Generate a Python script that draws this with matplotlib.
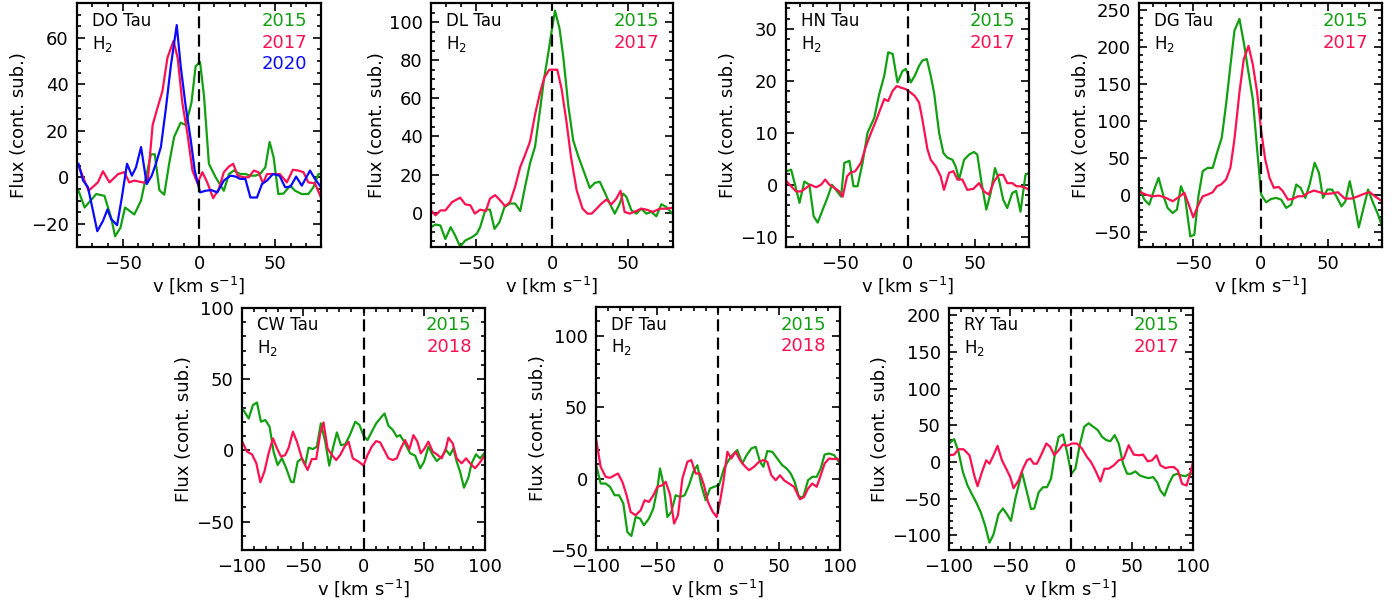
import numpy as np
import matplotlib
matplotlib.use('Agg')
import matplotlib.pyplot as plt
from matplotlib.ticker import MultipleLocator

plt.rcParams['font.family'] = ['DejaVu Sans']
plt.rcParams['mathtext.fontset'] = 'dejavusans'

GREEN = '#12a012'
RED = '#ff1050'
BLUE = '#0a0aff'

# ---- DO Tau
do_v15 = [-79, -75, -67.4, -62, -57.6, -55, -51.5, -48.5, -42.4, -38, -34.8, -31.5, -29, -26, -22.8, -19.6, -16.3, -12, -8.7, -5, -2.2, 0.7, 3.3, 6.5, 10.9, 16.3, 19.6, 22.8, 27, 30.4, 33.7, 37, 40, 43.5, 46.3, 48.9, 52, 55.4, 59.8, 63, 67.4, 71.7, 75, 78.3, 80]
do_f15 = [-5.8, -13, -7.2, -8, -17.4, -25.4, -21.7, -13, -16, -10, 0, 9.9, 9.9, -5.5, -7.5, 5.8, 17.4, 23.5, 22.5, 31.9, 47.8, 49.6, 34.8, 5.8, 0, -5.8, 1.4, 2.9, 1.4, 1.4, 0.7, 0.7, 1.4, 4.3, 15.2, 8.7, -7.2, -7, -3.6, -5.8, -7.2, -7.2, -4.3, 1.4, 1.4]
do_v17 = [-79, -72.4, -66.3, -63, -58.7, -53, -49, -45.7, -42.4, -37, -33.7, -30.4, -27, -24, -20.7, -16.7, -14, -10.9, -7.6, -4.3, -1, 2.2, 5.4, 9.3, 13, 16.3, 19.6, 22.4, 25.4, 29.3, 32.6, 35.9, 39, 42, 44.6, 49, 53, 57.6, 61.5, 65.2, 68.5, 71.7, 76, 80]
do_f17 = [5, -5.8, -2.2, 2.6, -2.2, 1.4, 2.2, -2.2, -1.4, -2.2, -2.2, 22.5, 30.4, 37, 51.4, 58.7, 51.4, 31.9, 18.8, 2.9, -2.6, 2.2, -2.2, -9, -5, 2.2, 4.6, 5.8, 0.7, 0, 0, 2.9, 2.2, -2.6, 1.4, 1.4, 1.4, -2.2, 3.2, 2.9, 2.2, -2.2, -2.6, -8.7]
do_v20 = [-79, -76, -72.8, -66.7, -63, -60, -57.6, -53.7, -50.6, -47.2, -44, -41.3, -38, -34.3, -31, -28.3, -25, -21.7, -18.5, -14.6, -12, -8.7, -5.4, -2.8, 0.7, 4.3, 8, 12, 16.3, 20.7, 24, 27, 30.4, 33.7, 38, 41.3, 44.6, 48.5, 52.8, 56.5, 60, 63.7, 67.4, 72.8, 76, 80]
do_f20 = [5.8, -1.4, -4.3, -23.2, -18.8, -13.8, -18, -20.6, -8.7, 5.8, 0.7, 4.3, 13, -2.9, 0.7, 5.8, 13, 29.7, 47.8, 65.5, 47.8, 30.4, 16, 2.9, -6.5, -5.8, -5.5, -6.5, -1.4, 0.7, 0.3, -0.7, -0.7, -8.7, -8.7, -2.9, -1.4, 1.4, 0.7, -4.3, -4, 0.3, -3.6, 2.9, -0.7, -4.3]

# ---- DL Tau
dl_v15 = [-80, -77, -73.8, -70.5, -67, -64, -60.7, -57.4, -53, -49.7, -47.5, -44, -41, -38, -34.7, -31.4, -27.7, -24.4, -21, -17.8, -14.5, -11.2, -7.9, -5.3, -2.4, 0, 2, 5, 7.5, 10.8, 14, 17.4, 20.7, 25, 28.4, 31.6, 35, 38.2, 41.5, 44.8, 47, 49.2, 52.5, 55.8, 59, 62.4, 65.7, 69, 72.3, 75.6, 80]
dl_f15 = [-7.6, -6.2, -6.7, -13.8, -7.6, -12, -17.8, -14.6, -12.9, -11, -7.6, 1.6, 1.6, -8.5, -4.9, 3, 4.8, 4.8, 0.9, 13.6, 26, 34.7, 54, 70, 84, 96.5, 106, 96.5, 81.5, 56, 38, 29.5, 22.4, 13, 15.7, 16.2, 10.4, 4.8, -0.5, 4.8, 10, 8.3, 1.2, -0.5, 2.1, -0.5, 0.4, -1.9, 4.4, 3, -0.9]
dl_v17 = [-80, -77, -73.8, -70.5, -66, -60.7, -57.4, -54, -51, -47.5, -43.7, -41, -37.6, -34.3, -31, -27.7, -24.4, -21, -17.8, -14.5, -11.2, -7.9, -5, -1.8, 0.9, 3.5, 6.4, 9.7, 12.5, 16.3, 20.2, 23.5, 26.2, 29.5, 32.7, 36, 39.3, 42.6, 45.3, 48, 51.4, 55.8, 59, 62.4, 66.8, 71.2, 75.6, 80]
dl_f17 = [1.2, -1.4, 1.2, 1.2, 5.6, 7.9, 4.4, 3.9, -0.5, 1.6, 0.9, 7.4, 9.2, 6.5, 3.4, 5.6, 13.6, 24, 30.3, 37.4, 51.5, 63, 71, 75, 75, 75, 64.7, 47, 29.5, 11.8, 2.1, -0.5, -0.5, 2.1, 4.8, 6.9, 4.4, 7.4, 11.5, 0.4, -0.5, 0.9, 2.1, 1.6, 0.4, 2.1, 2.1, 2.6]

# ---- HN Tau
hn_v15 = [-89.4, -86.2, -83.3, -80, -76.4, -72.7, -69.5, -66.5, -62.8, -59, -56, -53, -49.2, -46.8, -43, -40, -37, -33.3, -29.6, -24.6, -21, -17.2, -14.3, -11, -7.4, -3.7, -1.2, 2.5, 5.4, 8.6, 11, 14.3, 17.2, 19.7, 23.4, 26.6, 29.6, 33.3, 35.7, 38.2, 41.9, 45.6, 49.3, 51.7, 54.7, 58.4, 61.6, 64.8, 67.7, 70.9, 73.9, 77.6, 80.5, 83.7, 87.4, 90]
hn_f15 = [2.6, 2.9, 0, -3.5, 0.6, 0, -6.1, -7.3, -4.8, -2.3, 0, -1, -2.3, 4.2, 4.6, -0.3, -0.3, 4.2, 10, 12.9, 17.4, 21, 25.5, 25.2, 19.7, 21.9, 22.3, 19.7, 21, 22.9, 23.9, 24.2, 21, 17.7, 10, 6.1, 5.2, 4.8, 3.5, 1, 4.8, 5.8, 6.3, 5.8, 0.6, -4.8, -1.6, 3.2, 1, -2.9, -4.5, -1.6, -1.2, -5.2, 1.9, 2.3]
hn_v17 = [-89.4, -86.2, -82.5, -78.8, -75, -71.9, -67.7, -64, -61, -57.9, -54.2, -50.5, -48, -44.8, -42.4, -38.7, -34.5, -30.8, -27, -23.4, -20.2, -17.2, -14.3, -11, -7.9, -4.9, -1.2, 2.5, 5.4, 8.6, 11, 14.8, 17.2, 21, 24.6, 27, 30.8, 34, 37, 40.6, 44.3, 48.8, 53, 56.7, 60.3, 64, 67.7, 70.9, 73.9, 77.6, 80.8, 83.7, 87.4, 90]
hn_f17 = [0.6, -0.3, -1.3, -1.3, -0.6, 0, -0.5, 0, 1, 0, -0.6, -1.3, -2.3, 1.6, 2.3, 2.6, 4.2, 7.4, 10, 12.3, 14.5, 16.5, 16.1, 18.1, 19, 18.7, 18.4, 17.7, 17.1, 15.8, 12.6, 6.8, 4.8, 3.5, 1.6, -1, 2.3, 2.6, 1, 1, -1, -0.8, 0.3, -1.3, -1.9, 0.6, 1.9, 1.9, 0.3, 0.3, -0.3, -0.3, -0.6, -1]

# ---- DG Tau
dg_v15 = [-89.4, -86.1, -82.4, -78.7, -75.5, -71.8, -68.8, -65.1, -61.9, -58.9, -56, -52, -49, -46, -42.8, -39.1, -35.4, -32.2, -28.7, -25.5, -22.3, -19.3, -15.6, -12.4, -8.9, -5.7, -2.5, 0.5, 4.2, 7.9, 11.6, 15.3, 19, 22.8, 26.5, 29.7, 33.2, 36.4, 40.1, 43.3, 46.3, 49.5, 53, 56.2, 60, 62.9, 66.1, 69.3, 72.8, 76, 79.7, 83.4, 87.1, 90]
dg_f15 = [8.6, -5.9, -12.7, 7.7, 23.5, -1.4, -17.2, -24, -19.5, 12.2, -1.4, -55.7, -53.4, -1.4, 32.6, 37, 37, 57.5, 77.8, 123, 175, 222.6, 238.5, 206.8, 166, 130, 62, 0.9, -9.5, -5, -3.6, -5.9, -17.2, -12.7, 14.5, 10, -3.6, 14.5, 43.9, 30.3, -3.6, 7.7, 7.7, -1.4, -15, -8.1, 19, -8.1, -43.4, -19.5, 7.7, -10.4, -26.2, -42]
dg_v17 = [-89.4, -85, -80, -75, -70, -65, -61.4, -56.4, -52.7, -49.8, -46.5, -42.8, -39.1, -35.4, -32.2, -29.2, -25.5, -22.3, -19.3, -15.6, -12.4, -8.9, -5.7, -2.5, 0.5, 3.5, 6.7, 9.9, 13.4, 16.6, 20.3, 24, 27.7, 31.4, 35.1, 39.6, 43.8, 47.5, 52.5, 57.4, 62.4, 67.3, 72.3, 77.2, 80.9, 84.7, 90]
dg_f17 = [4.5, 0.9, -1.4, -0.5, -3.6, -8.1, -3.6, 3.2, -14.9, -29.9, -14.9, -1.4, 0.9, 4.1, 12.2, 14.5, 21.3, 37.1, 75.6, 139, 184, 202, 177, 139, 86.9, 48.4, 23.5, 10, 11.3, 5.4, -5.9, -5, -1.4, -1.4, 3.2, 6.3, 4.1, 1.8, 2.3, 4.1, -4.5, -4.5, -1.4, 2.3, 4.1, -1.4, -8.1]

# ---- CW Tau
cw_v15 = [-100, -94.5, -91, -87.7, -84.4, -80.8, -77.3, -74, -70.7, -67.1, -63.6, -59.7, -57.5, -54.2, -50.7, -48, -45.2, -41.6, -38.4, -35.1, -31.5, -28.2, -25.2, -21.9, -18.6, -15.1, -11, -6.8, -3.3, 0, 3.3, 6.8, 10.4, 14.2, 17.3, 20.5, 24.1, 27.4, 30.1, 34.2, 38.4, 42.5, 46.6, 49.9, 53.4, 57, 60.3, 64.4, 68, 71.2, 74, 76.7, 79.5, 82.7, 86.3, 89, 92.6, 95.9, 100]
cw_f15 = [29.9, 22.4, 31.8, 33.6, 20.1, 21.3, 16.6, -0.9, -10.3, -5.6, -12.6, -22, -22.4, -7.9, -5.6, -10.3, 1.9, 0.9, 2.6, 18.9, 6.1, -10.7, 1.4, 12.6, 3.7, 4.2, 11.2, 20.1, 17.8, 10.3, 7.2, 13.1, 18.9, 22.9, 25.9, 17.3, 14.3, 9.6, 10.7, 4.9, -2.1, -3.7, -12.6, -7.9, 2.6, -3.3, -7.5, -4.4, 0.2, -3.3, 1.4, -7.9, -15, -26.2, -19.2, -9.1, -2.8, -5.6, -1.4]
cw_v18 = [-100, -95.9, -91.8, -88.2, -84.9, -81.6, -78.1, -74.5, -71.2, -67.9, -64.4, -61.6, -58.1, -54.8, -50.7, -46, -42.5, -38.9, -35.6, -32.9, -29.6, -26, -22.5, -19.2, -15.6, -12.3, -8.8, -4.1, 0, 3.3, 6.8, 10.4, 13.7, 17, 20.5, 24.1, 27.4, 30.7, 34.2, 37.8, 41.1, 44.4, 47.1, 49.9, 53.4, 57, 60.3, 64.4, 68, 69.9, 73.4, 76.7, 80.8, 84.4, 87.7, 91.8, 95.3, 100]
cw_f18 = [6.5, -0.9, -2.8, -9.1, -22.4, -15, -2.1, 8.4, 1.4, -4.4, -3.3, 1.9, 13.1, 6.1, -5.6, -13.8, -6.1, -6.1, 11.9, 19.6, 1.4, -3.3, -6.8, -3.3, 2.6, 6.1, -5.6, -7.9, -10.7, -3.3, 2.6, 6.5, 5.6, 0.2, -5.6, -6.8, -5.6, 1.4, 7.2, 0.9, 10.7, 6.1, -2.1, 0.9, 6.1, -0.9, -2.8, -5.6, 1.9, 8.9, 4.9, -5.6, -9.1, -5.6, -9.1, -12.6, -9.1, -3.3]

# ---- DF Tau
df_v15 = [-99.5, -96.2, -92.1, -88.5, -84.7, -81.1, -77.6, -74.3, -71, -67.5, -63.9, -60.7, -56.6, -53, -49.7, -47.5, -44.3, -41.5, -38.3, -34.7, -31.1, -27.3, -23.8, -20.2, -16.9, -13.7, -10.1, -6.6, -3.3, 0.8, 4.9, 8.2, 11.7, 15.8, 19.9, 23.5, 27.3, 30.9, 34.4, 37.2, 40.4, 44.5, 48.6, 52.7, 56.3, 59.6, 62.8, 66.4, 69.9, 73.8, 77.3, 80.9, 84.2, 87.4, 91, 95.1, 100]
df_f15 = [8.2, -3.5, -3.5, -5.8, -11.7, -11.7, -17.5, -37.4, -40.2, -26.9, -28, -32.7, -28, -21, -7, 7, -5.8, -26.9, -23.4, -11.7, -12.9, -11.7, -4.7, 4.7, 9.3, -4.7, -15.2, -7, -5.8, -4.7, 7, 12.1, 16.4, 19.9, 10.5, 16.4, 21, 22.2, 11.7, 8.2, 19.2, 18.7, 14, 9.3, 7, 3.5, -2.3, -12.9, -12.9, -1.2, 1.2, 1.2, 7, 16.8, 17.5, 16.4, 10.5]
df_v18 = [-100, -96.2, -92.1, -88.5, -84.7, -82, -78.4, -74.9, -71.6, -67.5, -63.4, -60.1, -56.6, -53, -49.7, -45.6, -42.9, -39.3, -36, -32.8, -29.2, -25.1, -21.9, -18.3, -14.8, -11.5, -8.2, -4.6, -1.1, 1.6, 4.4, 7.7, 10.9, 14.5, 18, 21.3, 25.4, 29.5, 33.6, 37.2, 40.4, 43.7, 47.3, 50.8, 54.1, 58.2, 62.3, 67.2, 70.5, 73.8, 77.3, 80.9, 84.2, 87.4, 91, 95.1, 97.8, 100]
df_f18 = [28, 8.2, 1.2, 0.5, 2.3, 3.5, -2.3, -11.7, -23.4, -25.7, -22.2, -15.2, -16.4, -11.7, -5.8, -4.7, -2.3, -11.2, -31.5, -25.7, 0, 11.7, 12.9, 3.5, 3.5, -4.7, -16.4, -22.9, -26.9, -16.4, -2.3, 18.7, 14, 18.7, 12.9, 9.3, 5.8, 8.2, 11.7, 12.9, 11.7, 2.3, -1.2, 2.3, -1.2, -3.5, -5.8, -14.5, -12.9, -7, -3.5, -5.8, 2.3, 10.5, 14, 13.6, 14, 11.7]

# ---- RY Tau
ry_v15 = [-99.9, -95.8, -92.2, -88.6, -84.8, -81.3, -77.7, -73.9, -70.3, -66.8, -63.5, -59.4, -55.8, -52.5, -49.2, -45.7, -40.2, -36.1, -32.8, -30.1, -26.5, -23, -19.7, -16.4, -12.9, -10.1, -6.6, -3.3, 0.3, 3.6, 7.1, 10.9, 14.5, 18.1, 21.9, 25.4, 29, 32.3, 35.8, 39.1, 42.7, 46, 49.2, 52.8, 56.4, 60.2, 63.7, 67.3, 70.6, 73.3, 76.6, 80.2, 83.7, 87, 90.3, 93.8, 97.4, 100]
ry_f15 = [25.2, 31.2, 13.8, -13.8, -32.1, -43.6, -55, -68.8, -87.2, -110, -98.6, -71.1, -63.3, -71.1, -80.3, -50.5, -13.8, -41.3, -64.2, -63.3, -41.3, -34.4, -34.4, -22.9, 13.8, 34.4, 37.6, 13.8, -16, -9.2, 22.9, 48.2, 52.8, 48.2, 43.6, 34.4, 29.8, 28.4, 36.7, 25.2, -2.3, -16, -16, -12.8, -18.3, -20.6, -22, -20.6, -27.5, -39, -45.9, -29.8, -18.3, -16, -18.3, -19.3, -16, -16]
ry_v17 = [-99.9, -95.8, -92.2, -88.1, -83.2, -79.3, -76.6, -73, -69.5, -66.8, -63.5, -60.2, -56.6, -53.1, -49.8, -47.1, -43, -39.4, -36.1, -33.4, -30.6, -27.9, -24.6, -20.2, -17, -13.7, -10.1, -6.6, -3.3, 0.8, 4.9, 9, 13.1, 16.4, 20, 24.1, 27.4, 30.9, 35, 39.1, 43.2, 47.3, 51.4, 55.5, 59.1, 62.9, 66.5, 70, 73.3, 77.4, 81, 84.3, 87.6, 91.1, 94.7, 98, 100]
ry_f17 = [9.2, 10.1, 17.4, 17.4, 9.2, -18.3, -33, -13.8, 2.3, -2.3, 9.2, 22, 2.3, -9.2, -20.6, -35.8, -25.2, -9.2, 2.3, 4.6, -2.3, -2.3, 9.2, 25.2, 20.6, 9.2, 16, 23.9, 22, 25.2, 25.2, 18.3, 6.9, 0, -11.5, -26.6, -9.2, -9.2, -4.6, 2.3, 4.6, 22.9, 10.1, 9.2, 10.1, 0.9, 2.3, 9.2, -4.6, -8.3, -6.9, -6.9, -11.5, -29.8, -32.1, -13.8, 0]

W, H = 1397, 608
fig = plt.figure(figsize=(W / 100, H / 100), dpi=100)


def panel(px, name, series, xlim, ylim, ymaj, ymin):
    l, r, t, b = px
    ax = fig.add_axes([l / W, 1 - b / H, (r - l) / W, (b - t) / H])
    for v, f, c, yr in series:
        ax.plot(v, f, color=c, lw=1.6)
    ax.axvline(0, color='black', lw=1.6, ls=(0, (5.4, 2.8)))
    ax.set_xlim(*xlim)
    ax.set_ylim(*ylim)
    ax.xaxis.set_major_locator(MultipleLocator(50))
    ax.xaxis.set_minor_locator(MultipleLocator(10))
    ax.yaxis.set_major_locator(MultipleLocator(ymaj))
    ax.yaxis.set_minor_locator(MultipleLocator(ymin))
    ax.tick_params(which='both', direction='in', top=True, right=True, labelsize=13, width=1.2)
    ax.tick_params(which='major', length=6, pad=6)
    ax.tick_params(which='minor', length=3)
    for s in ax.spines.values():
        s.set_linewidth(1.6)
    ax.set_xlabel('v [km s$^{-1}$]', fontsize=13, labelpad=1)
    ax.set_ylabel('Flux (cont. sub.)', fontsize=13, labelpad=2)
    ax.text(0.06, 0.965, name, transform=ax.transAxes, fontsize=12, va='top', ha='left')
    ax.text(0.06, 0.875, 'H$_2$', transform=ax.transAxes, fontsize=12, va='top', ha='left')
    for i, (v, f, c, yr) in enumerate(series):
        ax.text(0.945, 0.965 - 0.09 * i, yr, color=c, transform=ax.transAxes,
                fontsize=13, va='top', ha='right')
    return ax


panel((77, 321, 3, 247), 'DO Tau',
      [(do_v15, do_f15, GREEN, '2015'), (do_v17, do_f17, RED, '2017'), (do_v20, do_f20, BLUE, '2020')],
      (-80, 80), (-30, 75), 20, 5)
panel((431, 673, 3, 247), 'DL Tau',
      [(dl_v15, dl_f15, GREEN, '2015'), (dl_v17, dl_f17, RED, '2017')],
      (-80, 80), (-18, 110), 20, 5)
panel((786, 1029, 3, 247), 'HN Tau',
      [(hn_v15, hn_f15, GREEN, '2015'), (hn_v17, hn_f17, RED, '2017')],
      (-90, 90), (-12, 35), 10, 2)
panel((1139, 1382, 3, 247), 'DG Tau',
      [(dg_v15, dg_f15, GREEN, '2015'), (dg_v17, dg_f17, RED, '2017')],
      (-90, 90), (-70, 260), 50, 10)
panel((242, 485, 308, 550), 'CW Tau',
      [(cw_v15, cw_f15, GREEN, '2015'), (cw_v18, cw_f18, RED, '2018')],
      (-100, 100), (-70, 100), 50, 10)
panel((596, 840, 307, 550), 'DF Tau',
      [(df_v15, df_f15, GREEN, '2015'), (df_v18, df_f18, RED, '2018')],
      (-100, 100), (-50, 120), 50, 10)
panel((949, 1193, 308, 550), 'RY Tau',
      [(ry_v15, ry_f15, GREEN, '2015'), (ry_v17, ry_f17, RED, '2017')],
      (-100, 100), (-120, 210), 50, 10)

fig.savefig('out.png', dpi=100)
